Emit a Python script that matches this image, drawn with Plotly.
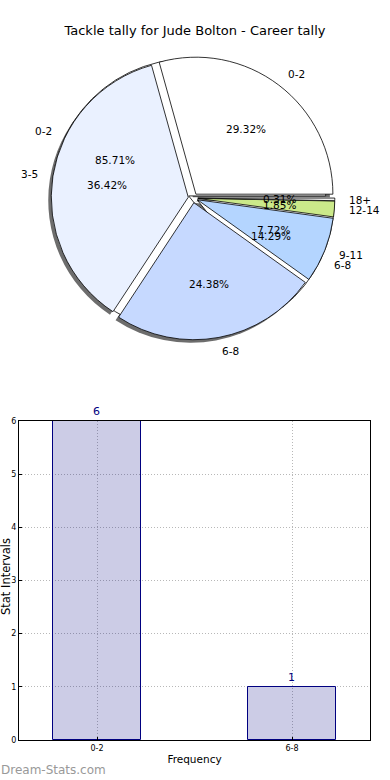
import math
import plotly.graph_objects as go

# ---- data ----
title_text = "Tackle tally for Jude Bolton - Career tally"
pie_labels = ["0-2", "3-5", "6-8", "9-11", "12-14", "18+"]
pie_values = [29.32, 36.42, 24.38, 7.72, 1.85, 0.31]
pie_colors = ["#ffffff", "#eaf1ff", "#c6d9ff", "#b4d5ff", "#cbe98a", "#f2f2f2"]

pie2_labels = ["0-2", "6-8"]
pie2_values = [85.71, 14.29]

bar_categories = ["0-2", "6-8"]
bar_values = [6, 1]
y_ticks = [0, 1, 2, 3, 4, 5, 6]

W, H = 390, 780
FONT = "DejaVu Sans"

def px_x(x):
    return x / W

def px_y(y):
    return 1 - y / H

# pie geometry (pixels)
cx, cy, R = 193, 198, 137
PULL = 0.035
half = R * (1 + PULL)

def dom(dx=0, dy=0):
    return dict(x=[px_x(cx - half + dx), px_x(cx + half + dx)],
                y=[px_y(cy + half + dy), px_y(cy - half + dy)])

def start_rot(values):
    # plotly: first slice starts at 3 o'clock and runs counterclockwise
    return 90 - 360 * values[0] / sum(values)

common = dict(sort=False, direction="counterclockwise", textinfo="none",
              hoverinfo="skip", showlegend=False, pull=PULL)

fig = go.Figure()
# shadow
fig.add_trace(go.Pie(labels=pie_labels, values=pie_values, domain=dom(-3, 3),
                     rotation=start_rot(pie_values),
                     marker=dict(colors=["rgba(60,60,60,0.75)"] * len(pie_values),
                                 line=dict(width=0)), **common))
# second pie (hidden underneath)
fig.add_trace(go.Pie(labels=pie2_labels, values=pie2_values, domain=dom(),
                     rotation=start_rot(pie2_values),
                     marker=dict(colors=["#ffffff"] * len(pie2_values),
                                 line=dict(color="#000000", width=0.8)), **common))
# main pie
fig.add_trace(go.Pie(labels=pie_labels, values=pie_values, domain=dom(),
                     rotation=start_rot(pie_values),
                     marker=dict(colors=pie_colors,
                                 line=dict(color="#000000", width=0.8)), **common))

# pie texts: percentages at 0.6 R, labels at 1.1 R along each slice's mid angle
PIE_FONT = dict(family=FONT, size=10.5, color="#000000")
annotations = []

def pie_texts(labels, values):
    total = sum(values)
    a0 = 0.0
    for lab, v in zip(labels, values):
        span = 360 * v / total
        mid = math.radians(a0 + span / 2)
        a0 += span
        c, s = math.cos(mid), math.sin(mid)
        e = PULL * R
        rp = e + 0.6 * R
        rl = e + 1.1 * R
        annotations.append(dict(text=f"{100 * v / total:.2f}%",
                                x=px_x(cx + rp * c), y=px_y(cy - rp * s),
                                xanchor="center", yanchor="middle"))
        annotations.append(dict(text=lab,
                                x=px_x(cx + rl * c), y=px_y(cy - rl * s),
                                xanchor="left" if c > 0 else "right",
                                yanchor="middle"))

pie_texts(pie_labels, pie_values)
pie_texts(pie2_labels, pie2_values)
for a in annotations:
    a.update(xref="paper", yref="paper", showarrow=False, font=PIE_FONT,
             borderpad=0)

# bar chart
fig.add_trace(go.Bar(x=bar_categories, y=bar_values, width=0.45,
                     marker=dict(color="rgba(0,0,128,0.2)",
                                 line=dict(color="#000080", width=1)),
                     text=[str(v) for v in bar_values], textposition="outside",
                     textfont=dict(family=FONT, size=11, color="#000080"),
                     cliponaxis=False, hoverinfo="skip", showlegend=False,
                     xaxis="x", yaxis="y"))

annotations.append(dict(text="Stat Intervals", textangle=-90,
                        x=0, y=px_y(577), xref="paper", yref="paper",
                        xanchor="left", yanchor="middle", xshift=-2,
                        showarrow=False, borderpad=0,
                        font=dict(family=FONT, size=11.5, color="#000000")))
annotations.append(dict(text="Dream-Stats.com", x=0, y=px_y(770),
                        xref="paper", yref="paper", xanchor="left",
                        yanchor="middle", showarrow=False, borderpad=0,
                        font=dict(family=FONT, size=12, color="#999999")))

grid = dict(showgrid=True, gridcolor="#b8b8b8", griddash="1px,2px", gridwidth=1)

fig.update_layout(
    width=W, height=H,
    margin=dict(l=0, r=0, t=0, b=0),
    paper_bgcolor="#ffffff", plot_bgcolor="#ffffff",
    font=dict(family=FONT, size=11, color="#000000"),
    title=dict(text=title_text, x=0.5, xanchor="center", y=px_y(30),
               yanchor="middle", font=dict(family=FONT, size=13, color="#000000")),
    bargap=0,
    xaxis=dict(domain=[px_x(19), px_x(370)], range=[-0.4, 1.4], type="category",
               showline=True, linecolor="#000000", linewidth=1, mirror=True,
               ticks="inside", ticklen=3, tickcolor="#000000",
               tickfont=dict(family=FONT, size=8, color="#000000"),
               title=dict(text="Frequency", font=dict(family=FONT, size=10.5),
                          standoff=4),
               automargin=False, zeroline=False, fixedrange=True, **grid),
    yaxis=dict(domain=[px_y(740), px_y(421)], range=[0, 6],
               tickvals=y_ticks,
               showline=True, linecolor="#000000", linewidth=1, mirror=True,
               ticks="inside", ticklen=3, tickcolor="#000000",
               tickfont=dict(family=FONT, size=8, color="#000000"),
               automargin=False, zeroline=False, fixedrange=True, **grid),
    annotations=annotations,
)

fig.write_html("out.html", config={"displayModeBar": False},
               post_script="document.body.style.margin='0px';")
